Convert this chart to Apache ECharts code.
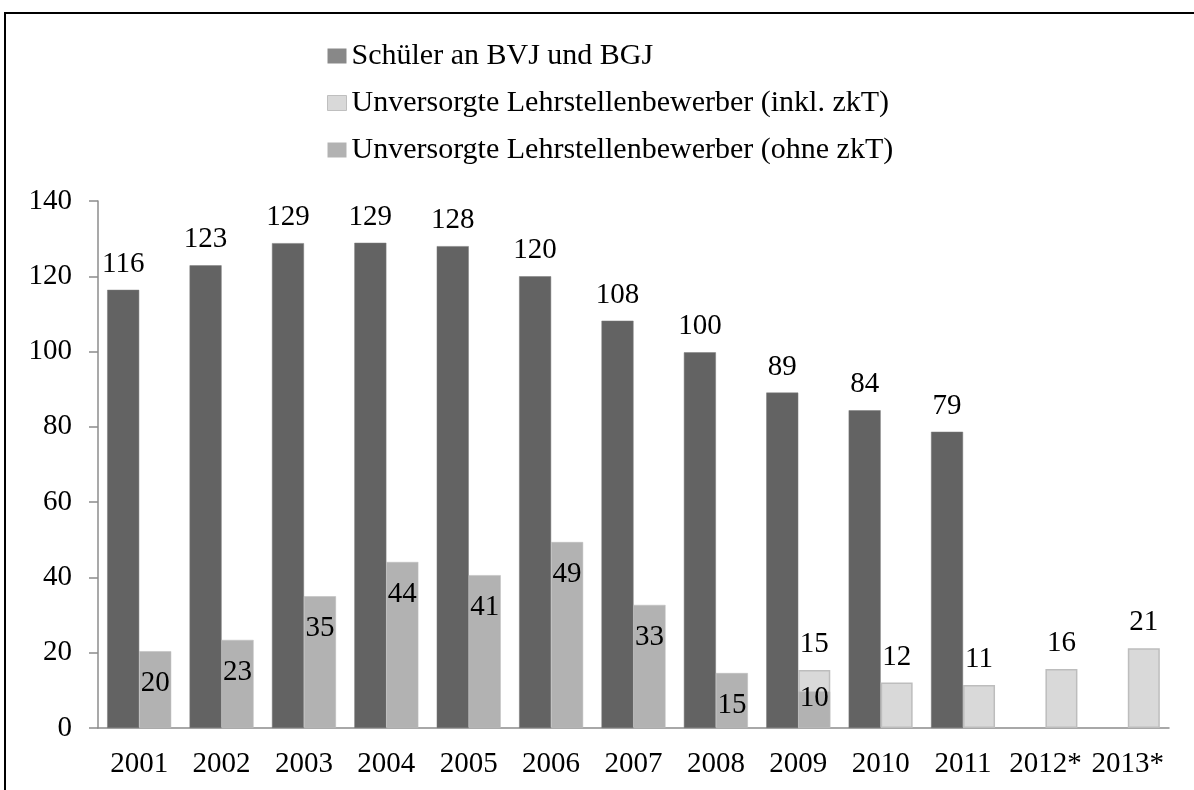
<!DOCTYPE html>
<html>
<head>
    <meta charset="UTF-8">
    <title>Schüler an BVJ und BGJ</title>
    <script src="https://cdn.jsdelivr.net/npm/echarts@6/dist/echarts.min.js"></script>
    <style>
        html, body { margin: 0; padding: 0; background: #fff; }
        #chart { width: 1194px; height: 790px; }
    </style>
</head>
<body>
<div id="chart"></div>
<script>
    // Jahre
    var years = ['2001', '2002', '2003', '2004', '2005', '2006', '2007', '2008', '2009', '2010', '2011', '2012*', '2013*'];
    // Schüler an BVJ und BGJ (in Tsd.)
    var schueler = [116.4, 122.9, 128.8, 128.9, 128.0, 120.0, 108.2, 99.8, 89.1, 84.4, 78.7, null, null];
    // Unversorgte Lehrstellenbewerber (inkl. zkT)
    var inklZkT = [null, null, null, null, null, null, null, null, 15.4, 12.1, 11.4, 15.7, 21.2];
    // Unversorgte Lehrstellenbewerber (ohne zkT)
    var ohneZkT = [20.4, 23.4, 35.0, 44.1, 40.6, 49.4, 32.7, 14.6, 9.7, null, null, null, null];
    var yTicks = [0, 20, 40, 60, 80, 100, 120, 140];

    var font = '"Liberation Serif", "Times New Roman", serif';
    var chart = echarts.init(document.getElementById('chart'), null, {renderer: 'canvas'});

    function rounded(p) {
        return Math.round(p.value);
    }

    // 2009: Wert 10 sitzt fast oben im Balken
    var ohneData = ohneZkT.map(function (v, i) {
        if (years[i] === '2009') {
            return {value: v, label: {distance: -8}};
        }
        return v;
    });

    var option = {
        animation: false,
        backgroundColor: '#fff',
        textStyle: {fontFamily: font},
        graphic: [{
            type: 'rect',
            shape: {x: 5, y: 13, width: 1300, height: 900},
            style: {fill: 'none', stroke: '#000', lineWidth: 2},
            silent: true
        }],
        legend: {
            orient: 'vertical',
            left: 322,
            top: 36,
            icon: 'rect',
            itemWidth: 19,
            itemHeight: 15,
            itemGap: 17,
            textStyle: {fontFamily: font, fontSize: 30, lineHeight: 30, color: '#000'},
            data: [
                {name: 'Schüler an BVJ und BGJ', itemStyle: {color: '#888888', borderWidth: 0}},
                {name: 'Unversorgte Lehrstellenbewerber (inkl. zkT)', itemStyle: {color: '#d9d9d9', borderColor: '#bfbfbf', borderWidth: 1}},
                {name: 'Unversorgte Lehrstellenbewerber (ohne zkT)', itemStyle: {color: '#b2b2b2', borderWidth: 0}}
            ]
        },
        grid: {left: 98, right: 25, top: 201, bottom: 62, containLabel: false},
        xAxis: [{
            type: 'category',
            data: years,
            axisLine: {lineStyle: {color: '#8c8c8c', width: 1.5}},
            axisTick: {length: 8, lineStyle: {color: '#8c8c8c', width: 1.5}},
            axisLabel: {fontFamily: font, fontSize: 29, color: '#000', margin: 22, interval: 0}
        }, {
            type: 'category',
            data: years,
            show: false
        }],
        yAxis: {
            type: 'value',
            min: 0,
            max: 140,
            interval: 20,
            axisLine: {show: true, lineStyle: {color: '#8c8c8c', width: 1.5}},
            axisTick: {show: true, length: 9, lineStyle: {color: '#8c8c8c', width: 1.5}},
            splitLine: {show: false},
            axisLabel: {
                fontFamily: font, fontSize: 29, color: '#000', margin: 26,
                formatter: function (v) { return yTicks.indexOf(v) >= 0 ? String(v) : ''; }
            }
        },
        series: [{
            name: 'Schüler an BVJ und BGJ',
            type: 'bar',
            xAxisIndex: 0,
            data: schueler,
            barWidth: 32,
            barGap: '0%',
            itemStyle: {color: '#636363', borderColor: '#7a7a7a', borderWidth: 0.5},
            label: {show: true, position: 'top', distance: 11, fontFamily: font, fontSize: 29, color: '#000', formatter: rounded}
        }, {
            name: 'Unversorgte Lehrstellenbewerber (inkl. zkT)',
            type: 'bar',
            xAxisIndex: 0,
            data: inklZkT,
            barWidth: 32,
            barGap: '0%',
            itemStyle: {color: '#d9d9d9', borderColor: '#bdbdbd', borderWidth: 1.5},
            label: {show: true, position: 'top', distance: 11, fontFamily: font, fontSize: 29, color: '#000', formatter: rounded}
        }, {
            // Platzhalter, damit die ohne-zkT-Balken rechts neben den dunklen Balken liegen
            name: 'platzhalter',
            type: 'bar',
            xAxisIndex: 1,
            data: years.map(function () { return null; }),
            barWidth: 32,
            barGap: '0%',
            silent: true
        }, {
            name: 'Unversorgte Lehrstellenbewerber (ohne zkT)',
            type: 'bar',
            xAxisIndex: 1,
            data: ohneData,
            barWidth: 32,
            barGap: '0%',
            itemStyle: {color: '#b2b2b2', borderColor: '#bdbdbd', borderWidth: 0.5},
            label: {show: true, position: 'insideTop', distance: 18, fontFamily: font, fontSize: 29, color: '#000', formatter: rounded}
        }]
    };

    chart.setOption(option);
</script>
</body>
</html>
